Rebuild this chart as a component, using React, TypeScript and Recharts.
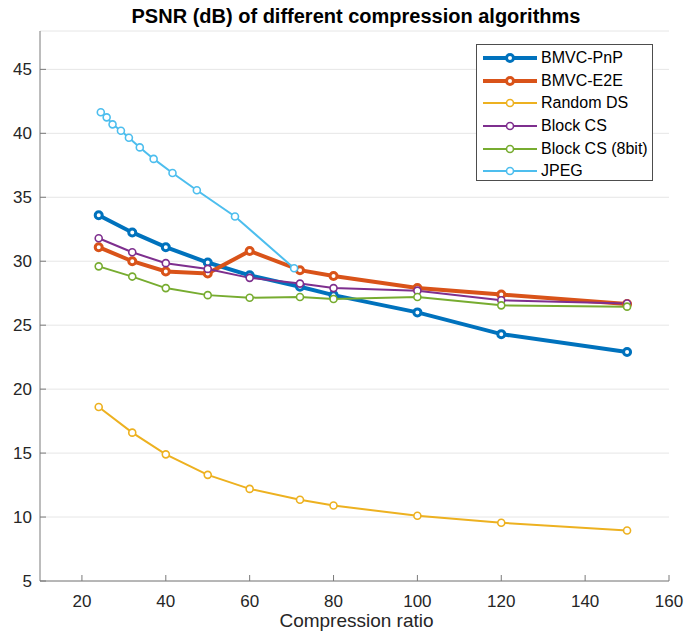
import { LineChart, Line, XAxis, YAxis, CartesianGrid, Label } from "recharts";

// compression ratios shared by most methods
const ratios = [24, 32, 40, 50, 60, 72, 80, 100, 120, 150];
const jpegRatios = [24.5, 25.9, 27.3, 29.3, 31.2, 33.8, 37.1, 41.6, 47.4, 56.5, 70.6];

const bmvcPnp = [33.6, 32.25, 31.1, 29.9, 28.9, 28.0, 27.35, 26.0, 24.3, 22.9];
const bmvcE2e = [31.1, 30.0, 29.2, 29.05, 30.8, 29.3, 28.85, 27.9, 27.4, 26.65];
const randomDs = [18.6, 16.6, 14.9, 13.3, 12.2, 11.35, 10.9, 10.1, 9.55, 8.95];
const blockCs = [31.8, 30.7, 29.85, 29.4, 28.7, 28.25, 27.9, 27.7, 26.95, 26.7];
const blockCs8 = [29.6, 28.8, 27.9, 27.35, 27.15, 27.2, 27.05, 27.2, 26.55, 26.45];
const jpeg = [41.65, 41.25, 40.7, 40.2, 39.65, 38.9, 38.0, 36.9, 35.55, 33.5, 29.45];

const xTicks = [20, 40, 60, 80, 100, 120, 140, 160];
const yTicks = [5, 10, 15, 20, 25, 30, 35, 40, 45];

const toPoints = (xs: number[], ys: number[]) => xs.map((x, i) => ({ x, y: ys[i] }));

const series = [
  { name: "BMVC-PnP", color: "#0072BD", width: 4, data: toPoints(ratios, bmvcPnp) },
  { name: "BMVC-E2E", color: "#D95319", width: 4, data: toPoints(ratios, bmvcE2e) },
  { name: "Random DS", color: "#EDB120", width: 2, data: toPoints(ratios, randomDs) },
  { name: "Block CS", color: "#7E2F8E", width: 2, data: toPoints(ratios, blockCs) },
  { name: "Block CS (8bit)", color: "#77AC30", width: 2, data: toPoints(ratios, blockCs8) },
  { name: "JPEG", color: "#4DBEEE", width: 2, data: toPoints(jpegRatios, jpeg) },
];

const FONT = "'Liberation Sans', Arial, Helvetica, sans-serif";
const AXIS = "#7a7a7a";
const TXT = "#262626";

const XTick = ({ x, payload }: any) => (
  <text x={x} y={607} textAnchor="middle" fontSize={17} fill={TXT} fontFamily={FONT}>
    {payload.value}
  </text>
);

const YTick = ({ y, payload }: any) => (
  <text x={32} y={y + 6} textAnchor="end" fontSize={17} fill={TXT} fontFamily={FONT}>
    {payload.value}
  </text>
);

const XLabel = ({ viewBox }: any) => (
  <text
    x={viewBox.x + viewBox.width / 2 + 2}
    y={627}
    textAnchor="middle"
    fontSize={19}
    fill={TXT}
    fontFamily={FONT}
  >
    Compression ratio
  </text>
);

function LegendBox() {
  return (
    <div
      style={{
        position: "absolute",
        left: 476,
        top: 44,
        width: 177,
        height: 137,
        border: "1px solid #4d4d4d",
        background: "#fff",
        boxSizing: "border-box",
        paddingTop: 2,
        fontFamily: FONT,
        fontSize: 16,
        color: "#000",
      }}
    >
      {series.map((s) => (
        <div key={s.name} style={{ display: "flex", alignItems: "center", height: 22.6 }}>
          <svg width={62} height={14} style={{ marginLeft: 5 }}>
            <line x1={1} y1={7} x2={55} y2={7} stroke={s.color} strokeWidth={s.width} />
            <circle cx={28} cy={7} r={3.5} fill="#fff" stroke={s.color} strokeWidth={s.width > 2 ? 3 : 1.6} />
          </svg>
          <span style={{ marginLeft: -3 }}>{s.name}</span>
        </div>
      ))}
    </div>
  );
}

export default function App() {
  return (
    <div style={{ position: "absolute", left: 0, top: 0, width: 699, height: 637, background: "#fff" }}>
      <div
        style={{
          position: "absolute",
          left: 40,
          width: 632,
          top: 6,
          textAlign: "center",
          fontFamily: FONT,
          fontSize: 20,
          lineHeight: "20px",
          fontWeight: "bold",
          color: "#000",
        }}
      >
        PSNR (dB) of different compression algorithms
      </div>
      <LineChart width={699} height={637} margin={{ top: 31, right: 30, left: 0, bottom: 0 }}>
        <CartesianGrid vertical={false} stroke="#e6e6e6" strokeWidth={1} />
        <XAxis
          dataKey="x"
          type="number"
          domain={[10, 160]}
          ticks={xTicks}
          allowDataOverflow
          height={56}
          tickSize={-6}
          stroke={AXIS}
          tick={<XTick />}
        >
          <Label content={<XLabel />} />
        </XAxis>
        <XAxis
          xAxisId="top"
          orientation="top"
          type="number"
          domain={[10, 160]}
          ticks={xTicks}
          allowDataOverflow
          height={0}
          tickSize={-6}
          tickFormatter={() => ""}
          stroke={AXIS}
        />
        <YAxis
          type="number"
          domain={[5, 48]}
          ticks={yTicks}
          allowDataOverflow
          width={40}
          tickSize={-6}
          stroke={AXIS}
          tick={<YTick />}
        />
        <YAxis
          yAxisId="right"
          orientation="right"
          type="number"
          domain={[5, 48]}
          ticks={yTicks}
          allowDataOverflow
          width={0}
          tickSize={-6}
          tickFormatter={() => ""}
          stroke={AXIS}
        />
        {series.map((s) => (
          <Line
            key={s.name}
            data={s.data}
            dataKey="y"
            name={s.name}
            stroke={s.color}
            strokeWidth={s.width}
            dot={{ r: 3.5, fill: "#fff", stroke: s.color, strokeWidth: s.width > 2 ? 3 : 1.6 }}
            activeDot={false}
            isAnimationActive={false}
          />
        ))}
      </LineChart>
      <LegendBox />
    </div>
  );
}
